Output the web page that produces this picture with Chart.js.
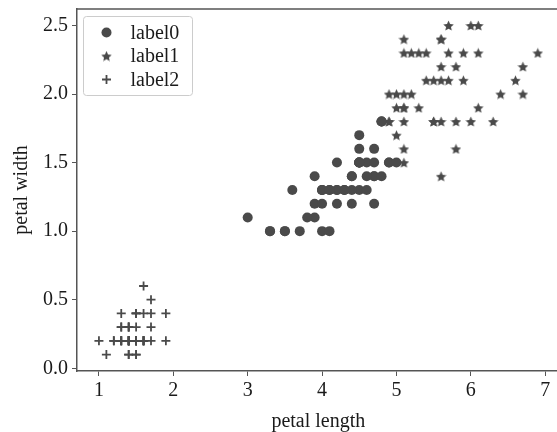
<!DOCTYPE html>
<html>
<head>
<meta charset="utf-8">
<script src="https://cdn.jsdelivr.net/npm/chart.js@4/dist/chart.umd.min.js"></script>
<style>
  html, body { margin: 0; padding: 0; background: #fff; overflow: hidden; }
  #wrap { width: 566px; height: 432px; position: relative; }
</style>
</head>
<body>
<div id="wrap"><canvas id="chart"></canvas></div>
<script>
// label0 (circles)
const lengths0 = [4.7,4.5,4.9,4.0,4.6,4.5,4.7,3.3,4.6,3.9,3.5,4.2,4.0,4.7,3.6,4.4,4.5,4.1,4.5,3.9,
  4.8,4.0,4.9,4.7,4.3,4.4,4.8,4.5,3.5,3.8,3.7,3.9,4.5,4.5,4.7,4.4,4.1,4.0,4.4,4.6,
  4.0,3.3,4.2,4.2,4.2,4.3,3.0,4.1,4.5,4.8,4.8,5.0];
const widths0 = [1.4,1.5,1.5,1.3,1.5,1.3,1.6,1.0,1.3,1.4,1.0,1.5,1.0,1.4,1.3,1.4,1.5,1.0,1.5,1.1,
  1.8,1.3,1.5,1.2,1.3,1.4,1.4,1.5,1.0,1.1,1.0,1.2,1.5,1.6,1.5,1.3,1.3,1.3,1.2,1.4,
  1.2,1.0,1.3,1.2,1.3,1.3,1.1,1.3,1.7,1.8,1.8,1.5];

// label1 (stars)
const lengths1 = [6.0,5.1,5.9,5.6,5.8,6.6,6.3,5.8,6.1,5.1,5.3,5.5,5.0,5.1,5.3,5.5,6.7,6.9,5.7,4.9,
  6.7,4.9,5.7,6.0,4.9,5.6,5.8,6.1,6.4,5.6,5.1,5.6,6.1,5.6,5.5,5.4,5.6,5.1,5.1,5.9,
  5.7,5.2,5.0,5.2,5.4,5.1,5.0,5.1];
const widths1 = [2.5,1.9,2.1,1.8,2.2,2.1,1.8,1.8,2.5,2.0,1.9,2.1,2.0,2.4,2.3,1.8,2.2,2.3,2.3,2.0,
  2.0,1.8,2.1,1.8,1.8,2.1,1.6,1.9,2.0,2.2,1.5,1.4,2.3,2.4,1.8,2.1,2.4,2.3,1.9,2.3,
  2.5,2.3,1.9,2.0,2.3,1.8,1.7,1.6];

// label2 (plus)
const lengths2 = [1.4,1.4,1.3,1.5,1.4,1.7,1.4,1.5,1.4,1.5,1.5,1.6,1.4,1.1,1.2,1.5,1.3,1.4,1.7,1.5,
  1.7,1.5,1.0,1.7,1.9,1.6,1.6,1.5,1.4,1.6,1.6,1.5,1.5,1.4,1.5,1.2,1.3,1.4,1.3,1.5,
  1.3,1.3,1.3,1.6,1.9,1.4,1.6,1.4,1.5,1.4];
const widths2 = [0.2,0.2,0.2,0.2,0.2,0.4,0.3,0.2,0.2,0.1,0.2,0.2,0.1,0.1,0.2,0.4,0.4,0.3,0.3,0.3,
  0.2,0.4,0.2,0.5,0.2,0.2,0.4,0.2,0.2,0.2,0.2,0.4,0.1,0.2,0.2,0.2,0.2,0.1,0.2,0.2,
  0.3,0.3,0.2,0.6,0.4,0.3,0.2,0.2,0.2,0.2];

const seriesLabels = ['label0', 'label1', 'label2'];
const xTicks = [1, 2, 3, 4, 5, 6, 7];
const yTicks = [0.0, 0.5, 1.0, 1.5, 2.0, 2.5];

const MARK = '#4a4a4a';
const AXIS = '#555555';
const FONT = "'Liberation Serif', 'DejaVu Serif', serif";

function toPoints(xs, ys) {
  return xs.map((x, i) => ({ x: x, y: ys[i] }));
}

// filled five-point star used as point style
function makeStar(size) {
  const c = document.createElement('canvas');
  c.width = size; c.height = size;
  const g = c.getContext('2d');
  const cx = size / 2, cy = size / 2 + 0.6, R = size / 2, r = R * 0.47;
  g.beginPath();
  for (let i = 0; i < 10; i++) {
    const rad = i % 2 === 0 ? R : r;
    const a = -Math.PI / 2 + i * Math.PI / 5;
    g.lineTo(cx + rad * Math.cos(a), cy + rad * Math.sin(a));
  }
  g.closePath();
  g.fillStyle = MARK;
  g.fill();
  return c;
}
const starImg = makeStar(11);

// top spine + legend box inside the plot
const frameLegend = {
  id: 'frameLegend',
  afterDatasetsDraw(chart) {
    const ctx = chart.ctx;
    const a = chart.chartArea;
    ctx.save();
    ctx.strokeStyle = AXIS;
    ctx.lineWidth = 1.5;
    ctx.beginPath();
    ctx.moveTo(a.left, a.top);
    ctx.lineTo(a.right, a.top);
    ctx.stroke();

    const bx = a.left + 6.5, by = a.top + 7.5, bw = 109, bh = 79;
    ctx.fillStyle = 'rgba(255,255,255,0.85)';
    ctx.strokeStyle = '#cccccc';
    ctx.lineWidth = 1;
    ctx.beginPath();
    ctx.roundRect(bx, by, bw, bh, 3);
    ctx.fill();
    ctx.stroke();

    ctx.font = '20px ' + FONT;
    ctx.textBaseline = 'middle';
    seriesLabels.forEach((lab, i) => {
      const y = by + 16 + i * 23.5;
      const mx = bx + 23;
      if (i === 0) {
        ctx.fillStyle = MARK;
        ctx.beginPath();
        ctx.arc(mx, y, 5, 0, Math.PI * 2);
        ctx.fill();
      } else if (i === 1) {
        ctx.drawImage(starImg, mx - 5.5, y - 5.5);
      } else {
        ctx.strokeStyle = MARK;
        ctx.lineWidth = 1.8;
        ctx.beginPath();
        ctx.moveTo(mx - 4.5, y); ctx.lineTo(mx + 4.5, y);
        ctx.moveTo(mx, y - 4.5); ctx.lineTo(mx, y + 4.5);
        ctx.stroke();
      }
      ctx.fillStyle = '#1a1a1a';
      ctx.fillText(lab, bx + 47, y + 1);
    });
    ctx.restore();
  }
};

new Chart(document.getElementById('chart'), {
  type: 'scatter',
  data: {
    datasets: [
      {
        label: seriesLabels[0],
        data: toPoints(lengths0, widths0),
        pointStyle: 'circle',
        pointRadius: 5,
        backgroundColor: MARK,
        borderWidth: 0
      },
      {
        label: seriesLabels[1],
        data: toPoints(lengths1, widths1),
        pointStyle: starImg,
        pointRadius: 5,
        backgroundColor: MARK,
        borderWidth: 0
      },
      {
        label: seriesLabels[2],
        data: toPoints(lengths2, widths2),
        pointStyle: 'cross',
        pointRadius: 4.5,
        borderColor: MARK,
        borderWidth: 1.8
      }
    ]
  },
  options: {
    responsive: true,
    maintainAspectRatio: false,
    animation: false,
    layout: { padding: { top: 9, right: 1, left: 0, bottom: 0 } },
    plugins: {
      legend: { display: false },
      tooltip: { enabled: false }
    },
    scales: {
      x: {
        type: 'linear',
        min: 0.705,
        max: 7.195,
        afterBuildTicks: s => { s.ticks = xTicks.map(v => ({ value: v })); },
        afterFit: s => { s.height = 61; s.paddingLeft = 0; s.paddingRight = 0; },
        grid: { drawOnChartArea: false, drawTicks: true, tickLength: 5, tickColor: AXIS, tickWidth: 1 },
        border: { display: true, color: AXIS, width: 1.5 },
        ticks: { color: '#1a1a1a', font: { family: FONT, size: 20 }, padding: 3 },
        title: { display: true, text: 'petal length', color: '#1a1a1a', font: { family: FONT, size: 20, lineHeight: 1 }, padding: { top: 0, bottom: 0 } }
      },
      y: {
        type: 'linear',
        min: -0.02,
        max: 2.62,
        afterBuildTicks: s => { s.ticks = yTicks.map(v => ({ value: v })); },
        afterFit: s => { s.width = 77; s.paddingTop = 0; s.paddingBottom = 0; },
        grid: { drawOnChartArea: false, drawTicks: true, tickLength: 5, tickColor: AXIS, tickWidth: 1 },
        border: { display: true, color: AXIS, width: 1.5 },
        ticks: { color: '#1a1a1a', font: { family: FONT, size: 20 }, padding: 4, callback: v => v.toFixed(1) },
        title: { display: true, text: 'petal width', color: '#1a1a1a', font: { family: FONT, size: 20 }, padding: { top: 10, bottom: 0 } }
      }
    }
  },
  plugins: [frameLegend]
});
</script>
</body>
</html>
